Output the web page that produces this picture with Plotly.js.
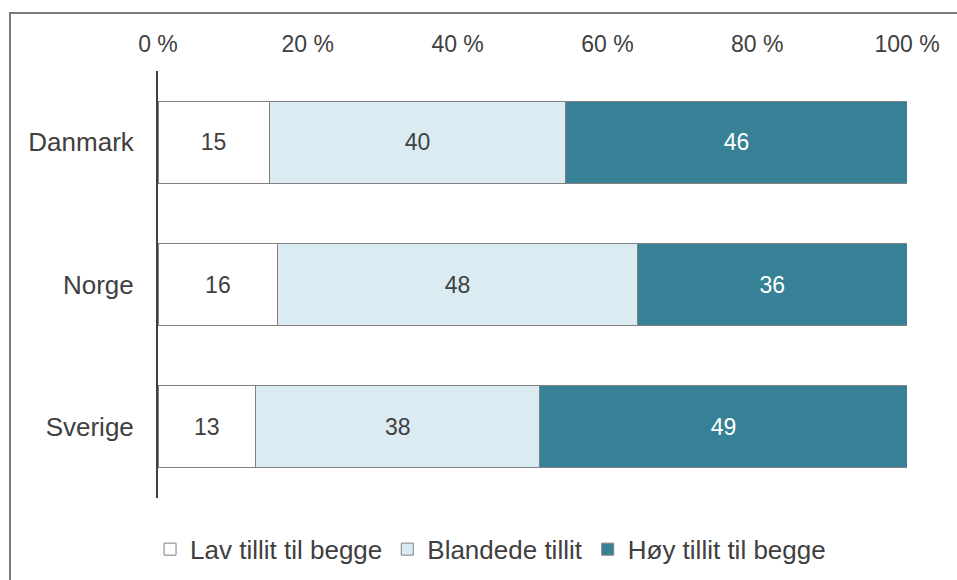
<!DOCTYPE html>
<html>
<head>
<meta charset="utf-8">
<script src="https://cdn.plot.ly/plotly-3.0.1.min.js"></script>
<style>
  html, body { margin: 0; padding: 0; background: #fff; overflow: hidden; }
  #wrap { position: relative; width: 957px; height: 580px; }
  #chart { width: 957px; height: 580px; }
  #frame { position: absolute; left: 9px; top: 12px; width: 980px; height: 620px;
           border: 2px solid #7a7a7a; pointer-events: none; box-sizing: border-box; }
</style>
</head>
<body>
<div id="wrap">
  <div id="chart"></div>
  <div id="frame"></div>
</div>
<script>
const countries = ["Danmark", "Norge", "Sverige"];
const seriesNames = ["Lav tillit til begge", "Blandede tillit", "Høy tillit til begge"];
const lav = [15, 16, 13];
const blandede = [40, 48, 38];
const hoy = [46, 36, 49];
const tickVals = [0, 20, 40, 60, 80, 100];
const tickText = ["0 %", "20 %", "40 %", "60 %", "80 %", "100 %"];

const colors = ["#ffffff", "#daecf2", "#378196"];
const textColors = ["#404040", "#404040", "#ffffff"];
const allVals = [lav, blandede, hoy];
const FONT = "Liberation Sans, Arial, sans-serif";

const traces = allVals.map((vals, i) => ({
  type: "bar",
  orientation: "h",
  name: seriesNames[i],
  y: countries,
  x: vals,
  text: vals.map(String),
  texttemplate: "%{text}",
  textposition: "inside",
  insidetextanchor: "middle",
  constraintext: "none",
  textfont: { family: FONT, size: 23, color: textColors[i] },
  marker: { color: colors[i], line: { color: "#808080", width: 1 } },
  width: 0.575,
  hoverinfo: "skip"
}));

const layout = {
  width: 957,
  height: 580,
  margin: { l: 158, r: 50, t: 71, b: 82, autoexpand: false },
  barmode: "stack",
  barnorm: "percent",
  paper_bgcolor: "#ffffff",
  plot_bgcolor: "#ffffff",
  font: { family: FONT, size: 23, color: "#404040" },
  showlegend: true,
  legend: {
    orientation: "h",
    x: 0.444, xanchor: "center",
    y: -0.065, yanchor: "top",
    font: { family: FONT, size: 26, color: "#404040" },
    traceorder: "normal",
    itemwidth: 30
  },
  xaxis: {
    side: "top",
    range: [0, 100],
    tickvals: tickVals,
    ticktext: tickText,
    showgrid: false,
    zeroline: false,
    showline: false,
    ticks: "",
    ticklabelstandoff: 13,
    tickfont: { family: FONT, size: 23, color: "#404040" },
    automargin: false,
    fixedrange: true
  },
  yaxis: {
    autorange: "reversed",
    showgrid: false,
    zeroline: false,
    showline: true,
    linecolor: "#404040",
    linewidth: 2,
    ticks: "",
    ticklabelstandoff: 17,
    tickfont: { family: FONT, size: 26, color: "#404040" },
    automargin: false,
    fixedrange: true
  }
};

Plotly.newPlot("chart", traces, layout, { displayModeBar: false, staticPlot: true });
</script>
</body>
</html>
